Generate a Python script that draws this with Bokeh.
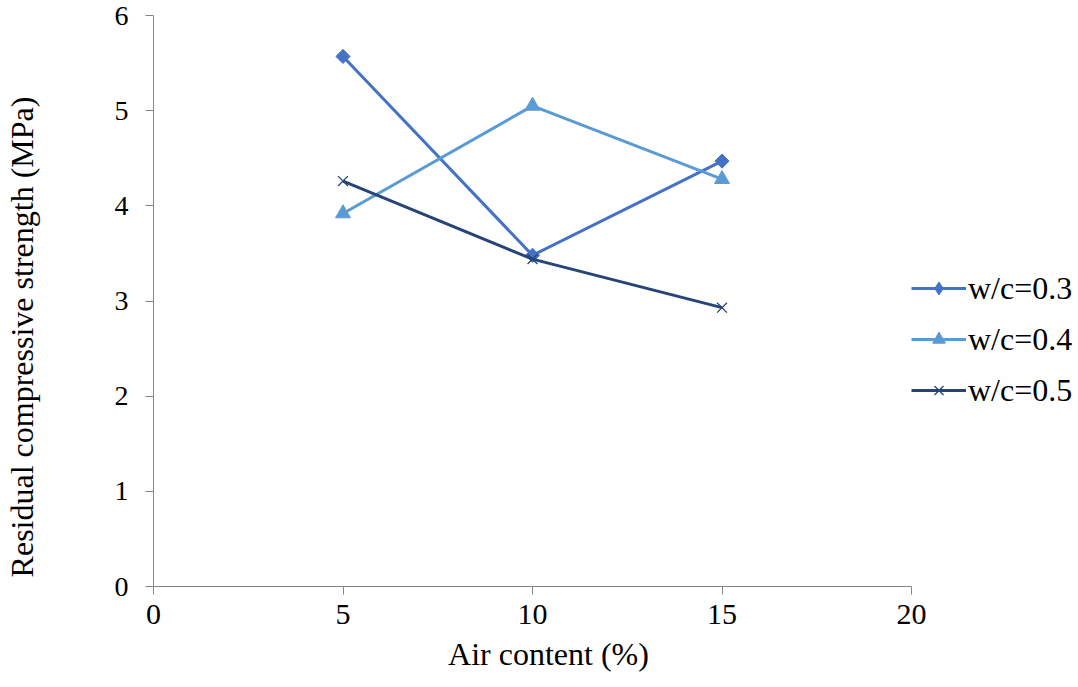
from bokeh.plotting import figure
from bokeh.models import Legend, LegendItem, Range1d, FixedTicker
from bokeh.embed import file_html
from bokeh.resources import INLINE
import math

air_content = [5, 10, 15]
wc03 = [5.57, 3.48, 4.47]
wc04 = [3.92, 5.05, 4.28]
wc05 = [4.26, 3.44, 2.93]
series_names = ["w/c=0.3", "w/c=0.4", "w/c=0.5"]
x_ticks = [0, 5, 10, 15, 20]
y_ticks = [0, 1, 2, 3, 4, 5, 6]

FONT = "Liberation Serif"
FS = "32px"
NB = "\u00a0"

p = figure(frame_width=758, frame_height=571, output_backend="svg", toolbar_location=None,
           x_range=Range1d(0, 20), y_range=Range1d(0, 6),
           min_border_left=153, min_border_right=167, min_border_top=15, min_border_bottom=101)
p.outline_line_color = None
p.grid.visible = False
p.background_fill_color = "white"
p.border_fill_color = "white"

for ax in (p.xaxis[0], p.yaxis[0]):
    ax.axis_line_color = "#868686"
    ax.major_tick_line_color = "#868686"
    ax.minor_tick_line_color = None
    ax.major_tick_in = 0
    ax.major_tick_out = 8
    ax.major_label_text_font = FONT
    ax.major_label_text_font_size = "30px"
    ax.major_label_text_color = "black"
    ax.axis_label_text_font = FONT
    ax.axis_label_text_font_size = FS
    ax.axis_label_text_font_style = "normal"
    ax.axis_label_text_color = "black"

p.yaxis[0].major_label_text_font_size = "28px"
p.xaxis[0].ticker = FixedTicker(ticks=x_ticks)
p.yaxis[0].ticker = FixedTicker(ticks=y_ticks)
p.xaxis[0].axis_label = NB * 4 + "Air content (%)"
p.yaxis[0].axis_label = "Residual compressive strength (MPa)" + NB * 9
p.xaxis[0].major_label_standoff = 10
p.xaxis[0].axis_label_standoff = 9
p.yaxis[0].major_label_standoff = 17
p.yaxis[0].axis_label_standoff = 72

c1, c2, c3 = "#4472C4", "#5B9BD5", "#264478"

l1 = p.line(air_content, wc03, line_color=c1, line_width=3)
m1 = p.scatter(air_content, wc03, marker="square", size=10, angle=math.pi / 4,
               fill_color=c1, line_color=c1)
m1_key = p.scatter([float("nan")], [float("nan")], marker="diamond", size=14,
                   fill_color=c1, line_color=c1)
l2 = p.line(air_content, wc04, line_color=c2, line_width=3)
m2 = p.scatter(air_content, wc04, marker="triangle", size=15, fill_color=c2, line_color=c2)
l3 = p.line(air_content, wc05, line_color=c3, line_width=3)
m3 = p.scatter(air_content, wc05, marker="x", size=14, line_color=c3, line_width=1.3)

legend = Legend(items=[
    LegendItem(label=series_names[0], renderers=[l1, m1_key]),
    LegendItem(label=series_names[1], renderers=[l2, m2]),
    LegendItem(label=series_names[2], renderers=[l3, m3]),
], location="center_left")
legend.title = "."
legend.title_text_alpha = 0
legend.title_text_font_size = "10px"
legend.title_standoff = 66
legend.label_text_font = FONT
legend.label_text_font_size = FS
legend.label_text_color = "black"
legend.glyph_width = 55
legend.glyph_height = 32
legend.label_height = 32
legend.spacing = 14
legend.padding = 0
legend.margin = 0
legend.label_standoff = 2
legend.border_line_alpha = 0
legend.background_fill_alpha = 0
p.add_layout(legend, "right")

open("out.html", "w").write(file_html(p, INLINE))
